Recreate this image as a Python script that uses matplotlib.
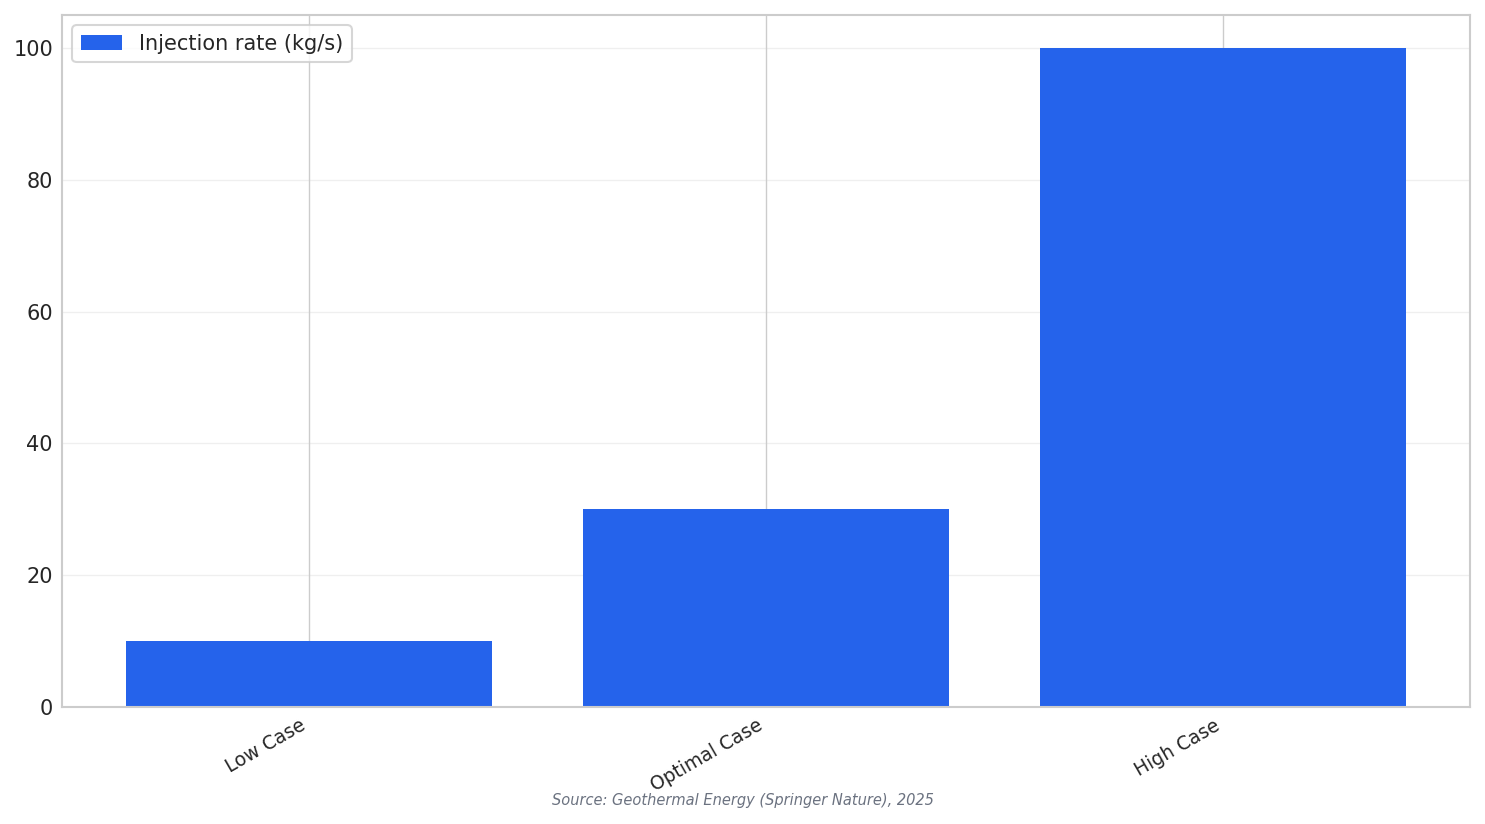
import matplotlib
matplotlib.use("Agg")
import matplotlib.pyplot as plt
import seaborn as sns

categories = ["Low Case", "Optimal Case", "High Case"]
injection_rate = [10, 30, 100]
series_label = "Injection rate (kg/s)"
source_text = "Source: Geothermal Energy (Springer Nature), 2025"

sns.set_theme(style="whitegrid")
plt.rcParams['font.family'] = ['DejaVu Sans']

fig = plt.figure(figsize=(14.85, 8.24), dpi=100)
ax = fig.add_axes([62/1485, 1-707/824, (1470-62)/1485, (707-15)/824])
ax.bar(categories, injection_rate, width=0.8, color="#2563EB", linewidth=0,
       label=series_label)
ax.set_axisbelow(True)
ax.grid(axis='y', alpha=0.3)
ax.tick_params(axis='y', labelsize=15, length=0, pad=6.5)
ax.tick_params(axis='x', labelsize=13.5, length=0, pad=6.5)
plt.setp(ax.get_xticklabels(), rotation=30, ha='right', rotation_mode='default')
for s in ax.spines.values():
    s.set_color("#cccccc")
    s.set_linewidth(1.5)
leg = ax.legend(loc="upper left", fontsize=15)
leg.get_frame().set_edgecolor("#cccccc")
leg.get_frame().set_linewidth(1.5)
fig.text(0.5, 1-801/824, source_text, ha='center', va='center', fontsize=10.5,
         style='italic', color="#6b7280")
fig.savefig("out.png", dpi=100)
